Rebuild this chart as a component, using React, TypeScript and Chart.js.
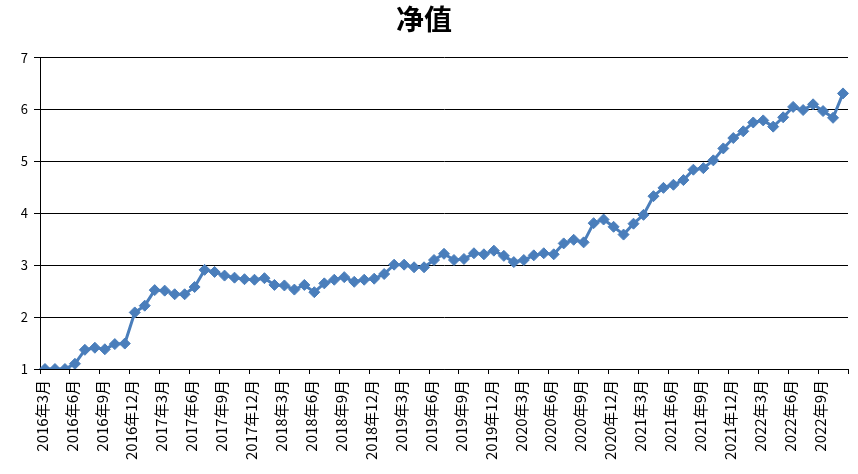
import React, { useEffect, useRef } from "react";
import { Chart, registerables } from "chart.js";

Chart.register(...registerables);

const TITLE = "净值";
const START_YEAR = 2016;
const START_MONTH = 3;
const MONTH_COUNT = 81;

const navValues: number[] = [
  1.00, 1.00, 1.00, 1.10, 1.37, 1.41, 1.38, 1.48, 1.49, 2.09,
  2.22, 2.52, 2.51, 2.44, 2.44, 2.58, 2.91, 2.87, 2.80, 2.76,
  2.73, 2.72, 2.75, 2.62, 2.61, 2.53, 2.62, 2.48, 2.65, 2.72,
  2.77, 2.68, 2.72, 2.74, 2.83, 3.01, 3.01, 2.96, 2.96, 3.10,
  3.22, 3.10, 3.12, 3.23, 3.21, 3.28, 3.18, 3.06, 3.10, 3.19,
  3.23, 3.21, 3.42, 3.49, 3.44, 3.81, 3.88, 3.74, 3.59, 3.80,
  3.97, 4.33, 4.49, 4.55, 4.64, 4.84, 4.87, 5.02, 5.25, 5.45,
  5.58, 5.75, 5.79, 5.67, 5.85, 6.05, 5.99, 6.10, 5.97, 5.84,
  6.31,
];

const monthLabels: string[] = [];
for (let i = 0; i < MONTH_COUNT; i++) {
  const m0 = START_MONTH - 1 + i;
  const y = START_YEAR + Math.floor(m0 / 12);
  const m = (m0 % 12) + 1;
  monthLabels.push(`${y}年${m}月`);
}

const yTicks: number[] = [1, 2, 3, 4, 5, 6, 7];

const FONT = "'Noto Sans CJK SC', 'Noto Sans', sans-serif";
const LINE_COLOR = "#4A7EBB";

export default function App() {
  const canvasRef = useRef<HTMLCanvasElement | null>(null);

  useEffect(() => {
    if (!canvasRef.current) return;
    const chart = new Chart(canvasRef.current, {
      type: "line",
      data: {
        labels: monthLabels,
        datasets: [
          {
            label: TITLE,
            data: navValues,
            borderColor: LINE_COLOR,
            backgroundColor: LINE_COLOR,
            borderWidth: 3,
            pointStyle: "rectRot",
            pointRadius: 5.5,
            pointBorderWidth: 1,
            pointBackgroundColor: LINE_COLOR,
            pointBorderColor: LINE_COLOR,
            tension: 0,
          },
        ],
      },
      options: {
        responsive: true,
        maintainAspectRatio: false,
        animation: false,
        layout: { padding: { left: 0, right: 10, top: 0, bottom: 0 } },
        plugins: {
          legend: { display: false },
          tooltip: { enabled: false },
          title: {
            display: true,
            text: TITLE,
            color: "#000",
            font: { family: FONT, size: 28, weight: "bold", lineHeight: 1.2 },
            padding: { top: 3, bottom: 21 },
          },
        },
        scales: {
          x: {
            type: "category",
            offset: true,
            grid: {
              offset: true,
              drawOnChartArea: false,
              drawTicks: true,
              tickLength: 5,
              tickColor: (ctx: any) =>
                ctx.index === undefined || ctx.index % 3 === 0 ? "#000" : "rgba(0,0,0,0)",
              color: "#000",
            },
            border: { display: true, color: "#000", width: 1 },
            ticks: {
              autoSkip: false,
              maxRotation: 90,
              minRotation: 90,
              padding: 6,
              labelOffset: -3,
              color: "#000",
              font: { family: FONT, size: 15 },
              callback: (_v: any, i: number) => (i % 3 === 0 ? monthLabels[i] : ""),
            },
            afterFit: (scale: any) => {
              scale.height = 105;
              scale.paddingLeft = 0;
              scale.paddingRight = 0;
            },
          },
          y: {
            min: 1,
            max: 7,
            afterBuildTicks: (scale: any) => {
              scale.ticks = yTicks.map((v) => ({ value: v }));
            },
            grid: {
              color: "#000",
              lineWidth: 1,
              drawTicks: true,
              tickLength: 6,
              tickColor: "#000",
            },
            border: { display: true, color: "#000", width: 1 },
            ticks: {
              padding: 6,
              color: "#000",
              font: { family: FONT, size: 13 },
            },
            afterFit: (scale: any) => {
              scale.width = 40;
            },
          },
        },
      },
    });
    return () => chart.destroy();
  }, []);

  return (
    <div style={{ position: "fixed", left: 0, top: 0, width: 858, height: 474, background: "#fff" }}>
      <canvas ref={canvasRef} />
    </div>
  );
}
